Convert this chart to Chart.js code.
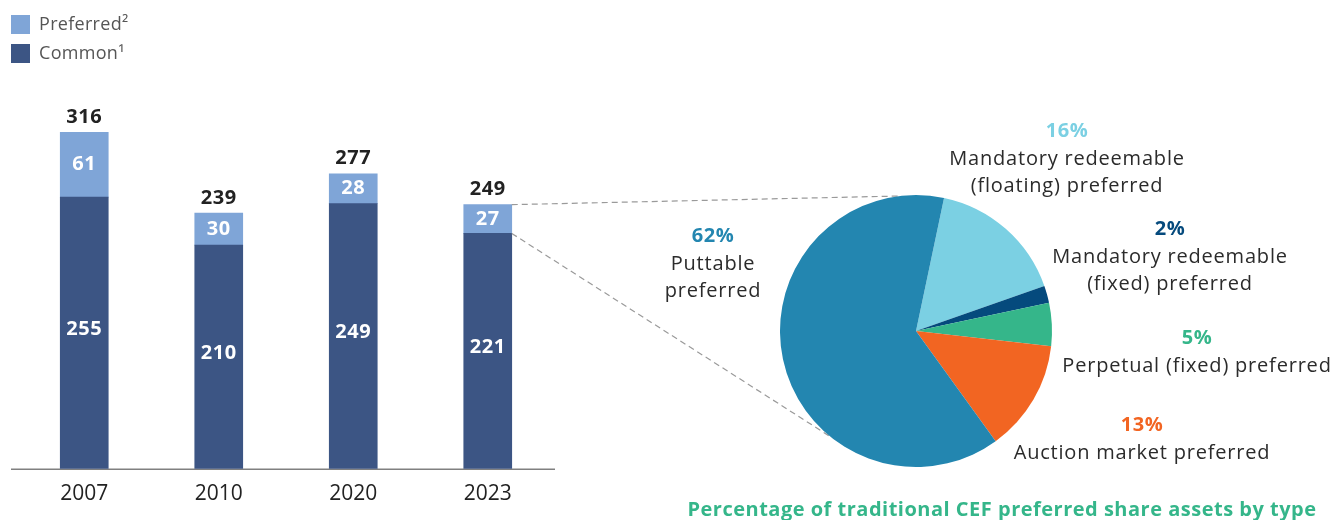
<!DOCTYPE html>
<html>
<head>
<meta charset="utf-8">
<script src="https://cdn.jsdelivr.net/npm/chart.js@4.4.0/dist/chart.umd.min.js"></script>
<style>
  html, body { margin: 0; padding: 0; background: #fff; }
  #wrap { position: relative; width: 1333px; height: 520px; overflow: hidden; }
  #wrap canvas { position: absolute; left: 0; top: 0; }
  #pieChart { pointer-events: none; }
</style>
</head>
<body>
<div id="wrap">
  <canvas id="barChart" width="1333" height="520"></canvas>
  <canvas id="pieChart" width="1333" height="520"></canvas>
</div>
<script>
const years = ['2007', '2010', '2020', '2023'];
const common = [255, 210, 249, 221];
const preferred = [61, 30, 28, 27];
const totals = [316, 239, 277, 249];

const prefTypes = [
    ['Mandatory redeemable', '(floating) preferred'],
    ['Mandatory redeemable', '(fixed) preferred'],
    ['Perpetual (fixed) preferred'],
    ['Auction market preferred'],
    ['Puttable', 'preferred']
];
const prefShares = [16, 2, 5, 13, 62];

const pieColors = ['#7bd0e3', '#054a7d', '#35b68a', '#f26522', '#2386b0'];
// where each pie label sits, relative to the pie centre
const labelSpots = [[151, -200], [254, -102], [281, 7], [226, 94], [-203, -95]];

const FONT = "'Open Sans', sans-serif";

const barExtras = {
    id: 'barExtras',
    beforeDatasetsDraw(chart) {
        const ctx = chart.ctx;
        const area = chart.chartArea;
        ctx.save();
        ctx.strokeStyle = '#808080';
        ctx.lineWidth = 1.5;
        ctx.beginPath();
        ctx.moveTo(11, area.bottom + 0.5);
        ctx.lineTo(area.right, area.bottom + 0.5);
        ctx.stroke();
        ctx.restore();
    },
    afterDatasetsDraw(chart) {
        const ctx = chart.ctx;
        ctx.save();
        ctx.textAlign = 'center';
        ctx.textBaseline = 'middle';
        ctx.letterSpacing = '0.5px';
        ctx.font = 'bold 20px ' + FONT;
        chart.data.datasets.forEach((ds, i) => {
            const lift = i === 0 ? 4 : 0;
            chart.getDatasetMeta(i).data.forEach((bar, j) => {
                ctx.fillStyle = '#ffffff';
                ctx.fillText(ds.data[j], bar.x, (bar.y + bar.base) / 2 - lift);
            });
        });
        const top = chart.getDatasetMeta(1).data;
        ctx.fillStyle = '#222222';
        totals.forEach((t, j) => {
            ctx.fillText(t, top[j].x, top[j].y - 15);
        });

        // legend
        ctx.textAlign = 'left';
        ctx.font = '18px ' + FONT;
        ctx.letterSpacing = '0.3px';
        const items = [['Preferred\u00b2', '#7fa5d7'], ['Common\u00b9', '#3c5584']];
        items.forEach((it, k) => {
            const y = 15 + k * 29;
            ctx.fillStyle = it[1];
            ctx.fillRect(11, y, 19, 19);
            ctx.fillStyle = '#555555';
            ctx.fillText(it[0], 39, y + 10);
        });
        ctx.restore();
    }
};

const barChart = new Chart(document.getElementById('barChart'), {
    type: 'bar',
    data: {
        labels: years,
        datasets: [
            { label: 'Common', data: common, backgroundColor: '#3c5584', barThickness: 48 },
            { label: 'Preferred', data: preferred, backgroundColor: '#7fa5d7', barThickness: 48 }
        ]
    },
    options: {
        responsive: false,
        animation: false,
        layout: { padding: { left: 17, right: 778, top: 96, bottom: 0 } },
        plugins: { legend: { display: false }, tooltip: { enabled: false } },
        scales: {
            x: {
                stacked: true,
                grid: { display: false, drawTicks: false },
                border: { display: false },
                ticks: { color: '#222222', padding: 13, font: { family: FONT, size: 21 } }
            },
            y: { stacked: true, display: false, min: 0, max: 350 }
        }
    },
    plugins: [barExtras]
});

function piePoint(arc, deg) {
    const a = deg * Math.PI / 180;
    return [arc.x + arc.outerRadius * Math.sin(a), arc.y - arc.outerRadius * Math.cos(a)];
}

const pieExtras = {
    id: 'pieExtras',
    beforeDatasetsDraw(chart) {
        const ctx = chart.ctx;
        const arc = chart.getDatasetMeta(0).data[0];
        const seg = barChart.getDatasetMeta(1).data[3];
        const right = seg.x + seg.width / 2;
        const p1 = piePoint(arc, -7);
        const p2 = piePoint(arc, 219);
        ctx.save();
        ctx.strokeStyle = '#9a9a9a';
        ctx.lineWidth = 1.2;
        ctx.setLineDash([6, 4]);
        ctx.beginPath();
        ctx.moveTo(right, seg.y);
        ctx.lineTo(p1[0], p1[1]);
        ctx.moveTo(right, seg.base);
        ctx.lineTo(p2[0], p2[1]);
        ctx.stroke();
        ctx.restore();
    },
    afterDatasetsDraw(chart) {
        const ctx = chart.ctx;
        const arc = chart.getDatasetMeta(0).data[0];
        ctx.save();
        ctx.textAlign = 'center';
        ctx.textBaseline = 'middle';
        prefShares.forEach((v, i) => {
            const x = arc.x + labelSpots[i][0];
            const y = arc.y + labelSpots[i][1];
            ctx.letterSpacing = '0.5px';
            ctx.font = 'bold 20px ' + FONT;
            ctx.fillStyle = pieColors[i];
            ctx.fillText(v + '%', x, y);
            ctx.letterSpacing = '0.8px';
            ctx.font = '20px ' + FONT;
            ctx.fillStyle = '#2b2b2b';
            prefTypes[i].forEach((line, k) => {
                ctx.fillText(line, x, y + 28 + k * 27);
            });
        });
        ctx.letterSpacing = '0.5px';
        ctx.font = 'bold 20px ' + FONT;
        ctx.fillStyle = '#35b68a';
        ctx.fillText('Percentage of traditional CEF preferred share assets by type', 1002, 510);
        ctx.restore();
    }
};

new Chart(document.getElementById('pieChart'), {
    type: 'pie',
    data: {
        labels: prefTypes.map(l => l.join(' ')),
        datasets: [{ data: prefShares, backgroundColor: pieColors, borderWidth: 0 }]
    },
    options: {
        responsive: false,
        animation: false,
        rotation: 11.9,
        layout: { padding: { left: 780, right: 281, top: 195, bottom: 53 } },
        plugins: { legend: { display: false }, tooltip: { enabled: false } }
    },
    plugins: [pieExtras]
});
</script>
</body>
</html>
